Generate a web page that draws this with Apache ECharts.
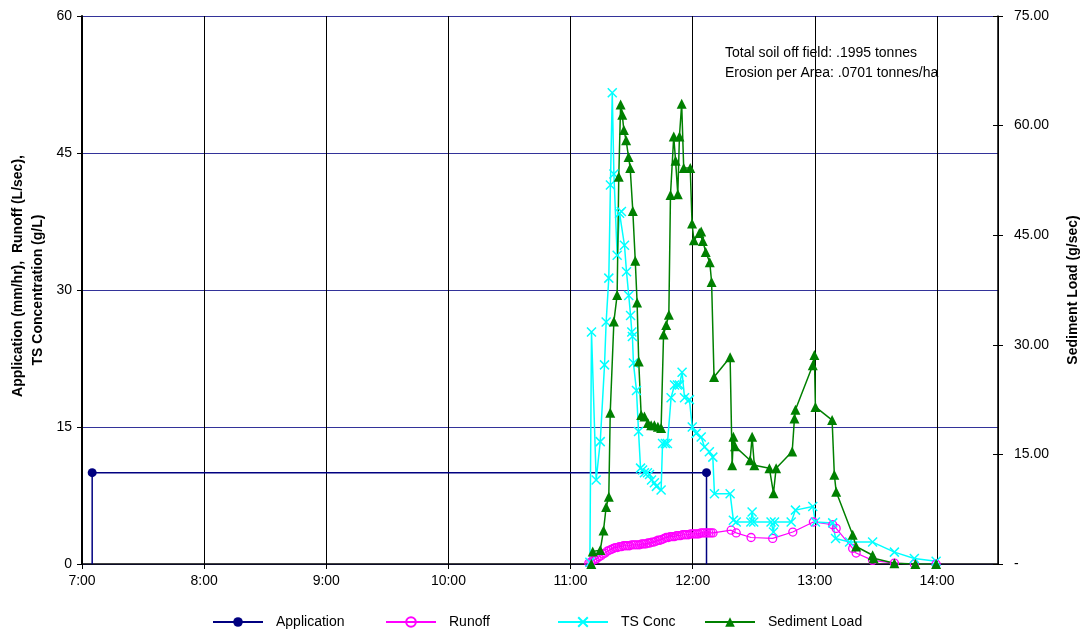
<!DOCTYPE html>
<html><head><meta charset="utf-8">
<script src="https://cdn.jsdelivr.net/npm/echarts@6/dist/echarts.min.js"></script>
<style>html,body{margin:0;padding:0;background:#fff}#c{width:1088px;height:633px}</style>
</head><body><div id="c"></div>
<script>
// x values are minutes since midnight
const xTickLabels = ['7:00','8:00','9:00','10:00','11:00','12:00','13:00','14:00'];
const leftTickLabels = ['0','15','30','45','60'];
const rightTickLabels = ['-','15.00','30.00','45.00','60.00','75.00'];

const appTime = [425, 425, 726.8, 726.8];
const appValue = [0, 10, 10, 0];

const runoffTime = [669,670,671,672,673,674,675,676,677,678,679,680,681,682,683,684,685,686,687,688,
  689,690,691,692,693,694,695,696,697,698,699,700,701,702,703,704,705,706,707,708,
  709,710,711,712,713,714,715,716,717,718,719,720,721,722,723,724,725,726,727,728,729,730,
  738.9,741.4,748.7,759.3,769.2,779.3,788.8,790.5,798.6,800.3,808.4,819.1,828.9,839.6];
const runoffValue = [0.1,0.2,0.4,0.5,0.6,0.8,0.9,1.1,1.2,1.4,1.5,1.6,1.7,1.8,1.8,1.9,1.9,2.0,2.0,2.0,
  2.0,2.1,2.1,2.1,2.1,2.1,2.2,2.2,2.2,2.3,2.3,2.4,2.4,2.5,2.6,2.6,2.7,2.8,2.9,2.9,
  3.0,3.0,3.0,3.1,3.1,3.1,3.2,3.2,3.2,3.2,3.3,3.3,3.3,3.3,3.3,3.4,3.4,3.4,3.4,3.4,3.4,3.4,
  3.7,3.4,2.9,2.8,3.5,4.6,4.3,3.9,1.7,1.2,0.4,0.1,0,0];

const tsTime = [669.5,670.3,672.6,674.6,676.7,677.5,678.8,679.6,680.5,681.3,682.9,684.1,685.0,686.5,687.5,688.6,689.5,690.1,690.4,690.9,
  692.4,693.4,694.4,695.4,696.3,697.8,698.8,699.8,701.2,702.2,704.5,705.2,706.6,707.6,709.4,711.1,712.5,713.5,714.8,716.0,
  718.4,719.8,721.7,724.2,725.8,728.2,729.9,730.7,738.4,740.0,741.4,748.6,749.2,750.0,758.5,759.7,760.2,768.4,770.5,779.0,
  780.3,788.8,790.2,797.1,808.4,819.1,828.9,839.6];
const tsValue = [0.2,25.4,9.2,13.4,21.8,26.5,31.3,41.5,51.6,42.7,33.8,38.4,38.6,34.9,32.0,29.4,27.2,25.4,24.9,22.0,
  19.0,14.5,10.5,10.3,10.0,10.0,9.8,9.2,8.9,8.5,8.1,13.2,13.2,13.2,18.2,19.6,19.6,19.6,21.0,18.2,
  18.0,15.0,14.3,13.9,12.8,12.3,11.7,7.7,7.7,4.8,4.6,4.6,5.7,4.6,4.6,3.5,4.6,4.6,5.9,6.3,
  4.6,4.5,2.8,2.4,2.4,1.3,0.6,0.3];

const sedTime = [670.2,670.9,674.6,676.2,677.5,678.8,679.5,681.3,682.9,683.7,684.6,685.4,686.2,687.3,688.5,689.3,690.6,691.8,692.7,693.5,
  694.7,696.3,698.0,699.6,701.2,702.9,704.5,705.7,707.0,708.3,709.1,710.7,711.6,712.7,713.5,714.6,715.6,718.8,719.7,720.6,
  723.3,724.2,725.0,726.4,728.4,729.3,730.5,738.4,739.4,740.0,740.8,748.2,749.2,750.3,757.7,759.7,761.0,768.9,770.0,770.5,
  779.0,779.8,780.3,788.5,789.6,790.5,798.6,800.3,808.4,808.9,819.1,829.4,839.6];
const sedValue = [0,1.7,1.9,4.6,7.8,9.2,20.7,33.2,36.8,53.0,62.9,61.5,59.4,58.0,55.7,54.2,48.3,41.5,35.8,27.7,
  20.4,20.2,19.3,19.0,19.0,18.8,18.6,31.4,32.7,34.1,50.5,58.5,55.2,50.6,58.5,63.0,54.2,54.2,46.6,44.3,
  45.3,45.5,44.2,42.7,41.3,38.6,25.6,28.3,13.5,17.4,16.1,14.2,17.4,13.5,13.1,9.7,13.1,15.4,19.9,21.1,
  27.2,28.6,21.5,19.7,12.2,9.9,4.0,2.4,1.2,0.8,0.1,0,0];

const zip = (a, b) => a.map((t, i) => [t, b[i]]);
const FONT = 'Liberation Sans, Arial, sans-serif';
const crossPath = 'path://M0,0L10,10M10,0L0,10';

const chart = echarts.init(document.getElementById('c'), null, {renderer: 'canvas'});
const legendBase = {
  top: 615, itemWidth: 50, itemHeight: 12, padding: 0, selectedMode: false,
  textStyle: {fontFamily: FONT, fontSize: 14, color: '#000', padding: [0, 0, 0, 8]}
};
chart.setOption({
  animation: false,
  backgroundColor: '#fff',
  grid: {left: 82, right: 90, top: 16, bottom: 69, containLabel: false},
  xAxis: {
    type: 'value', min: 420, max: 870, interval: 60,
    axisLine: {show: true, onZero: false, lineStyle: {color: '#000', width: 1.5}},
    axisTick: {show: true, length: 5, lineStyle: {color: '#000'}},
    axisLabel: {show: true, showMaxLabel: false, margin: 10, fontFamily: FONT, fontSize: 14, color: '#000',
      formatter: v => xTickLabels[Math.round((v - 420) / 60)] || ''},
    splitLine: {show: true, lineStyle: {color: '#000', width: 1}}
  },
  yAxis: [
    {
      type: 'value', min: 0, max: 60, interval: 15, position: 'left',
      axisLine: {show: true, lineStyle: {color: '#000', width: 2}},
      axisTick: {show: true, length: 5, lineStyle: {color: '#000'}},
      axisLabel: {margin: 10, fontFamily: FONT, fontSize: 14, color: '#000',
        formatter: v => leftTickLabels[Math.round(v / 15)]},
      splitLine: {show: true, lineStyle: {color: '#333399', width: 1}}
    },
    {
      type: 'value', min: 0, max: 75, interval: 15, position: 'right',
      axisLine: {show: true, lineStyle: {color: '#000', width: 1.5}},
      axisTick: {show: true, length: 5, lineStyle: {color: '#000'}},
      axisLabel: {margin: 16, fontFamily: FONT, fontSize: 14, color: '#000',
        formatter: v => rightTickLabels[Math.round(v / 15)]},
      splitLine: {show: false}
    },
    {
      type: 'value', min: 0, max: 75, interval: 15, position: 'right',
      axisLine: {show: false},
      axisTick: {show: true, inside: true, length: 5, lineStyle: {color: '#000'}},
      axisLabel: {show: false},
      splitLine: {show: false}
    }
  ],
  legend: [
    Object.assign({}, legendBase, {left: 212, data: ['Application']}),
    Object.assign({}, legendBase, {left: 385, data: ['Runoff']}),
    Object.assign({}, legendBase, {left: 557, data: ['TS Conc']}),
    Object.assign({}, legendBase, {left: 704, data: ['Sediment Load']})
  ],
  graphic: [
    {type: 'text', x: 18, y: 276, rotation: Math.PI / 2,
      style: {text: 'Application (mm/hr),  Runoff (L/sec),', fontFamily: FONT, fontSize: 14, fontWeight: 'bold',
        fill: '#000', textAlign: 'center', textVerticalAlign: 'middle'}},
    {type: 'text', x: 38, y: 290, rotation: Math.PI / 2,
      style: {text: 'TS Concentration (g/L)', fontFamily: FONT, fontSize: 14, fontWeight: 'bold',
        fill: '#000', textAlign: 'center', textVerticalAlign: 'middle'}},
    {type: 'text', x: 1073, y: 290, rotation: Math.PI / 2,
      style: {text: 'Sediment Load (g/sec)', fontFamily: FONT, fontSize: 14, fontWeight: 'bold',
        fill: '#000', textAlign: 'center', textVerticalAlign: 'middle'}},
    {type: 'text', x: 725, y: 53,
      style: {text: 'Total soil off field: .1995 tonnes', fontFamily: FONT, fontSize: 14,
        fill: '#000', textAlign: 'left', textVerticalAlign: 'middle'}},
    {type: 'text', x: 725, y: 73,
      style: {text: 'Erosion per Area: .0701 tonnes/ha', fontFamily: FONT, fontSize: 14,
        fill: '#000', textAlign: 'left', textVerticalAlign: 'middle'}}
  ],
  series: [
    {
      name: 'Application', type: 'line', data: zip(appTime, appValue),
      symbol: 'circle', symbolSize: v => (v[1] > 0 ? 9 : 0), showAllSymbol: true,
      lineStyle: {color: '#000080', width: 1.5}, itemStyle: {color: '#000080'}
    },
    {
      name: 'Runoff', type: 'line', data: zip(runoffTime, runoffValue),
      symbol: 'circle', symbolSize: 8, showAllSymbol: true,
      lineStyle: {color: '#ff00ff', width: 1.2},
      itemStyle: {color: 'rgba(255,255,255,0)', borderColor: '#ff00ff', borderWidth: 1.3}
    },
    {
      name: 'TS Conc', type: 'line', data: zip(tsTime, tsValue),
      symbol: crossPath, symbolSize: 9, showAllSymbol: true,
      lineStyle: {color: '#00ffff', width: 1.5},
      itemStyle: {color: '#00ffff', borderColor: '#00ffff', borderWidth: 1.5}
    },
    {
      name: 'Sediment Load', type: 'line', yAxisIndex: 1, data: zip(sedTime, sedValue),
      symbol: 'triangle', symbolSize: 10, showAllSymbol: true,
      lineStyle: {color: '#008000', width: 1.5}, itemStyle: {color: '#008000'}
    }
  ]
});
</script></body></html>
